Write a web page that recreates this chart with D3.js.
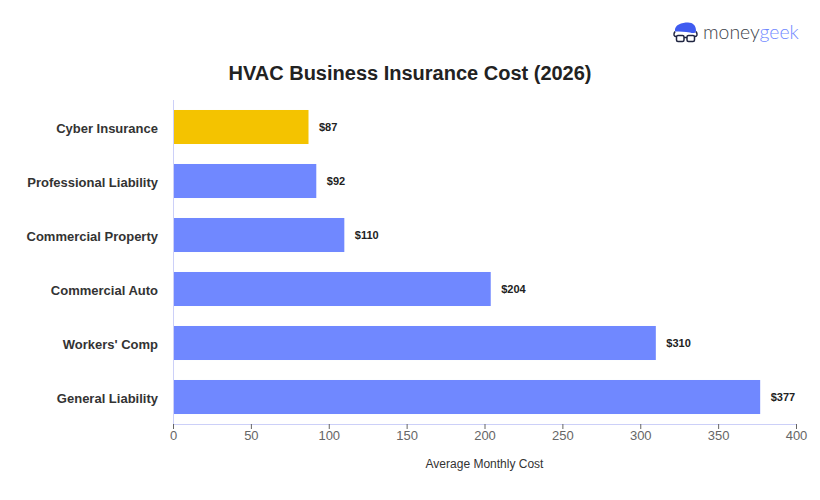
<!DOCTYPE html>
<html>
<head>
<meta charset="utf-8">
<style>
  html, body { margin: 0; padding: 0; background: #fff; }
  svg { display: block; }
  text { font-family: "Liberation Sans", Arial, sans-serif; }
</style>
<script src="https://cdn.jsdelivr.net/npm/d3@7"></script>
</head>
<body>
<svg id="chart" width="820" height="500"></svg>
<script>
const categories = ["Cyber Insurance", "Professional Liability", "Commercial Property", "Commercial Auto", "Workers' Comp", "General Liability"];
const monthlyCost = [87, 92, 110, 204, 310, 377];
const barColors = ["#f4c300", "#7088ff", "#7088ff", "#7088ff", "#7088ff", "#7088ff"];
const xTicks = [0, 50, 100, 150, 200, 250, 300, 350, 400];
const chartTitle = "HVAC Business Insurance Cost (2026)";
const xAxisTitle = "Average Monthly Cost";

const svg = d3.select("#chart");
const plot = { left: 173, right: 796, top: 100, bottom: 424 };

const x = d3.scaleLinear().domain([0, 400]).range([plot.left, plot.right]);
const y = d3.scaleBand().domain(categories).range([plot.top, plot.bottom]).paddingInner(0.37).paddingOuter(0.185);

svg.append("text")
  .attr("x", 410).attr("y", 80)
  .attr("text-anchor", "middle")
  .attr("font-size", 20).attr("font-weight", 700).attr("fill", "#222")
  .text(chartTitle);

// Bars and their value labels
svg.selectAll("rect.bar")
  .data(categories)
  .join("rect")
  .attr("class", "bar")
  .attr("x", x(0) + 1)
  .attr("y", d => y(d))
  .attr("width", (d, i) => x(monthlyCost[i]) - x(0) - 1)
  .attr("height", y.bandwidth())
  .attr("fill", (d, i) => barColors[i]);

svg.selectAll("text.value")
  .data(categories)
  .join("text")
  .attr("class", "value")
  .attr("x", (d, i) => x(monthlyCost[i]) + 10.5)
  .attr("y", d => y(d) + y.bandwidth() / 2 + 3.5)
  .attr("font-size", 11).attr("font-weight", 700).attr("fill", "#222")
  .text((d, i) => "$" + monthlyCost[i]);

// Category axis: labels only, with a pale baseline
const yAxis = svg.append("g")
  .attr("transform", `translate(${plot.left},0)`)
  .call(d3.axisLeft(y).tickSize(0).tickPadding(15));
yAxis.select(".domain").attr("stroke", "#ccd0f8").attr("d", `M0.5,${plot.top}V${plot.bottom}`);
yAxis.selectAll("text")
  .attr("dy", "0.47em")
  .attr("font-size", 13).attr("font-weight", 700).attr("fill", "#333")
  .style("font-family", '"Liberation Sans", Arial, sans-serif');

// Value axis
const xAxis = svg.append("g")
  .attr("transform", `translate(0,${plot.bottom})`)
  .call(d3.axisBottom(x).tickValues(xTicks).tickSize(5).tickPadding(2).tickFormat(d3.format("d")));
xAxis.select(".domain").attr("stroke", "#ccd0f8").attr("d", `M${plot.left},0.5H${plot.right + 0.5}`);
xAxis.selectAll(".tick line").attr("stroke", "#666");
xAxis.selectAll("text")
  .attr("font-size", 13).attr("fill", "#666")
  .style("font-family", '"Liberation Sans", Arial, sans-serif');

svg.append("text")
  .attr("x", 484.5).attr("y", 468)
  .attr("text-anchor", "middle")
  .attr("font-size", 12).attr("fill", "#333")
  .text(xAxisTitle);

// Brand mark in the top right corner
const logo = svg.append("g").attr("transform", "translate(674,22.5)");
logo.append("path")
  .attr("d", "M1,9 C0,2 8,0 14,0 C19,0 22,3 22,8 C22,11 19,11 16,10 C11,9 6,9 1,9 Z")
  .attr("fill", "#3f5bf0");
logo.append("path")
  .attr("d", "M1,9 C-1,12 0,14 2,14 M22,9 C24,12 23,14 21,14")
  .attr("fill", "none").attr("stroke", "#1f2440").attr("stroke-width", 1.5);
logo.append("rect").attr("x", 2.5).attr("y", 13).attr("width", 7.5).attr("height", 6).attr("rx", 1.5)
  .attr("fill", "#fff").attr("stroke", "#1f2440").attr("stroke-width", 1.5);
logo.append("rect").attr("x", 13).attr("y", 13).attr("width", 7.5).attr("height", 6).attr("rx", 1.5)
  .attr("fill", "#fff").attr("stroke", "#1f2440").attr("stroke-width", 1.5);
logo.append("path").attr("d", "M10,15 H13").attr("stroke", "#1f2440").attr("stroke-width", 1.5);

const word = svg.append("text")
  .attr("x", 703).attr("y", 38.5)
  .attr("font-size", 19.4)
  .style("font-family", 'Lato, "Noto Sans", sans-serif')
  .attr("font-weight", 300);
word.append("tspan").attr("fill", "#3c3f4a").text("money");
word.append("tspan").attr("fill", "#7088ff").text("geek");
</script>
</body>
</html>
